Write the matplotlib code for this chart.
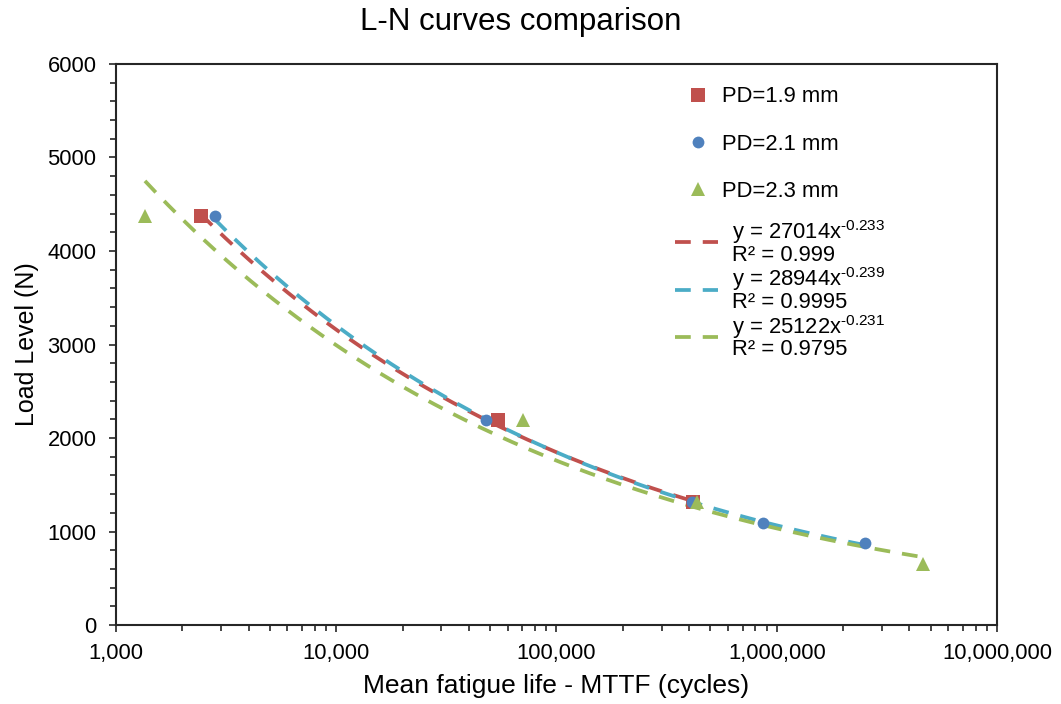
import numpy as np
import matplotlib
matplotlib.use("Agg")
import matplotlib.pyplot as plt
from matplotlib.ticker import FuncFormatter, LogLocator, MultipleLocator, NullFormatter

plt.rcParams['font.family'] = ['Liberation Sans', 'DejaVu Sans']
plt.rcParams['mathtext.fontset'] = 'custom'
plt.rcParams['mathtext.rm'] = 'Liberation Sans'
plt.rcParams['mathtext.it'] = 'Liberation Sans'
plt.rcParams['mathtext.default'] = 'regular'

# Fatigue test results: mean life (cycles) vs load level (N)
life_pd19 = [2430, 54200, 416800]
load_pd19 = [4375, 2188, 1313]

life_pd21 = [2815, 47900, 412000, 866000, 2515000]
load_pd21 = [4375, 2188, 1313, 1094, 875]

life_pd23 = [1354, 70450, 434500, 4614000]
load_pd23 = [4375, 2188, 1313, 656]

# Power-law trendlines y = a * x^b
fit_a = [27014, 28944, 25122]
fit_b = [-0.233, -0.239, -0.231]
fit_r2 = ["0.999", "0.9995", "0.9795"]

series_labels = ["PD=1.9 mm", "PD=2.1 mm", "PD=2.3 mm"]
marker_colors = ["#C0504D", "#4F81BD", "#9BBB59"]
line_colors = ["#C0504D", "#4BACC6", "#9BBB59"]
markers = ["s", "o", "^"]
marker_sizes = [10, 8.5, 10]

fig = plt.figure(figsize=(10.61, 7.04), dpi=100)
ax = fig.add_axes([0.1093, 0.1122, 0.9397 - 0.1093, 0.9091 - 0.1122])

lives = [life_pd19, life_pd21, life_pd23]
loads = [load_pd19, load_pd21, load_pd23]

marker_handles = []
for x, y, lab, c, m, ms in zip(lives, loads, series_labels, marker_colors, markers, marker_sizes):
    h, = ax.plot(x, y, linestyle="none", marker=m, color=c, markersize=ms,
                 markeredgewidth=0, label=lab, zorder=3)
    marker_handles.append(h)


def fit_label(a, b, r2):
    # exponent written with a plain hyphen, as in spreadsheet trendline labels
    exp_txt = f"{b:.3f}".replace("-", "\u2010")
    return "y = %dx$^{%s}$\nR² = %s" % (a, exp_txt, r2)


line_handles = []
for x, a, b, r2, c in zip(lives, fit_a, fit_b, fit_r2, line_colors):
    xs = np.logspace(np.log10(min(x)), np.log10(max(x)), 200)
    h, = ax.plot(xs, a * xs ** b, linestyle=(0, (4.2, 3.2)), color=c, linewidth=2.7,
                 label=fit_label(a, b, r2), zorder=2)
    line_handles.append(h)

ax.set_xscale("log")
ax.set_xlim(1e3, 1e7)
ax.set_ylim(0, 6000)
ax.xaxis.set_major_locator(LogLocator(base=10))
ax.xaxis.set_minor_locator(LogLocator(base=10, subs=np.arange(2, 10)))
ax.xaxis.set_minor_formatter(NullFormatter())
ax.xaxis.set_major_formatter(FuncFormatter(lambda v, p: f"{int(round(v)):,}"))
ax.yaxis.set_major_locator(MultipleLocator(1000))
ax.yaxis.set_minor_locator(MultipleLocator(200))

for s in ax.spines.values():
    s.set_linewidth(1.5)
    s.set_color("#262626")
ax.tick_params(axis="both", which="both", direction="out", color="#262626", width=1.2)
ax.tick_params(axis="both", which="major", length=5, labelsize=15.8)
ax.tick_params(axis="x", which="major", pad=8)
ax.tick_params(axis="y", which="major", pad=9)
ax.tick_params(axis="both", which="minor", length=4)

ax.set_xlabel("Mean fatigue life - MTTF (cycles)", fontsize=19, labelpad=7)
ax.set_ylabel("Load Level (N)", fontsize=18, labelpad=6)
fig.text(0.491, 0.969, "L-N curves comparison", fontsize=22.5, ha="center", va="center")

# Markers legend
leg1 = ax.legend(handles=marker_handles, loc="upper left",
                 bbox_to_anchor=(0.648, 0.9599), frameon=False, fontsize=15.8,
                 handlelength=1.0, handletextpad=0.6, labelspacing=1.19,
                 borderpad=0, borderaxespad=0)
ax.add_artist(leg1)

# Trendline legend
leg2 = ax.legend(handles=line_handles, loc="upper left",
                 bbox_to_anchor=(0.6345, 0.725), frameon=False, fontsize=15.8,
                 handlelength=1.96, handletextpad=0.64, labelspacing=0.0,
                 borderpad=0, borderaxespad=0)
for t in leg2.get_texts():
    t.set_linespacing(0.9)

fig.savefig("out.png", dpi=100)
